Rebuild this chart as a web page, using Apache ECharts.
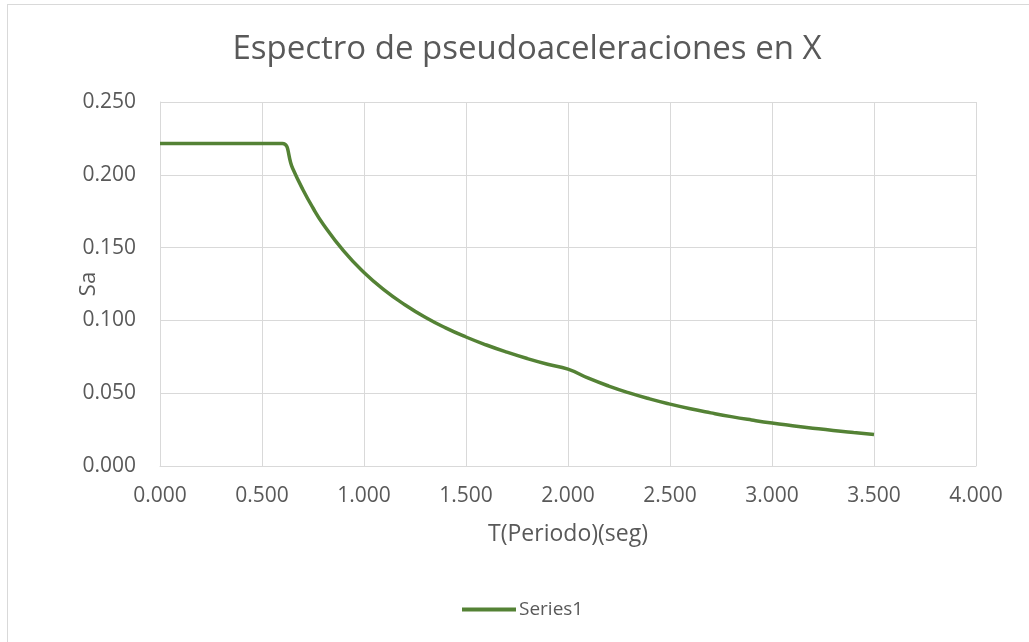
<!DOCTYPE html>
<html>
<head>
<meta charset="utf-8">
<script src="https://cdn.jsdelivr.net/npm/echarts@6/dist/echarts.min.js"></script>
<style>
html,body{margin:0;padding:0;background:#fff;}
#frame{position:absolute;left:7px;top:4px;width:1040px;height:660px;border:1px solid #d9d9d9;box-sizing:border-box;}
#chart{position:absolute;left:0;top:0;width:1029px;height:642px;}
</style>
</head>
<body>
<div id="frame"></div>
<div id="chart"></div>
<script>
const titleText = "Espectro de pseudoaceleraciones en X";
const xAxisName = "T(Periodo)(seg)";
const yAxisName = "Sa";
const seriesName = "Series1";
const periods = [0.0,0.1,0.2,0.3,0.4,0.5,0.55,0.6,0.65,0.7,0.75,0.8,0.9,1.0,1.1,1.2,1.3,1.4,1.5,1.6,1.7,1.8,1.9,2.0,2.1,2.2,2.3,2.4,2.5,2.6,2.7,2.8,2.9,3.0,3.1,3.2,3.3,3.4,3.5];
const saValues = [0.2215,0.2215,0.2215,0.2215,0.2215,0.2215,0.2215,0.2215,0.2045,0.1899,0.1772,0.1661,0.1477,0.1329,0.1208,0.1108,0.1022,0.0949,0.0886,0.0831,0.0782,0.0738,0.0699,0.0665,0.0603,0.0549,0.0502,0.0461,0.0425,0.0393,0.0365,0.0339,0.0316,0.0295,0.0277,0.0260,0.0244,0.0230,0.0217];

const chart = echarts.init(document.getElementById('chart'), null, {renderer:'canvas'});
const font = "Open Sans";
const txt = '#595959';
chart.setOption({
  animation:false,
  backgroundColor:'transparent',
  title:{text:titleText,left:522,textAlign:'center',top:28,textStyle:{fontFamily:font,fontSize:33,fontWeight:'normal',color:txt}},
  legend:{bottom:18,left:457,itemWidth:54,itemHeight:4,icon:'rect',itemGap:4,
    textStyle:{fontFamily:font,fontSize:19,color:txt,padding:[0,0,0,-2]},data:[seriesName]},
  grid:{left:160,right:53,top:102,bottom:176,containLabel:false},
  xAxis:{type:'value',min:0,max:4,interval:0.5,name:xAxisName,nameLocation:'middle',nameGap:57,nameMoveOverlap:false,
    nameTextStyle:{fontFamily:font,fontSize:23,color:txt},
    axisLine:{show:true,lineStyle:{color:'#d9d9d9',width:1}},axisTick:{show:false},
    splitLine:{show:true,lineStyle:{color:'#d9d9d9',width:1}},
    axisLabel:{fontFamily:font,fontSize:21,color:txt,margin:20,formatter:v=>v.toFixed(3)}},
  yAxis:{type:'value',min:0,max:0.25,interval:0.05,name:yAxisName,nameLocation:'middle',nameGap:60,nameRotate:90,nameMoveOverlap:false,
    nameTextStyle:{fontFamily:font,fontSize:22,color:txt},
    axisLine:{show:true,lineStyle:{color:'#d9d9d9',width:1}},axisTick:{show:false},
    splitLine:{show:true,lineStyle:{color:'#d9d9d9',width:1}},
    axisLabel:{fontFamily:font,fontSize:21,color:txt,margin:24,formatter:v=>v.toFixed(3)}},
  series:[{name:seriesName,type:'line',smooth:0.5,showSymbol:false,symbol:'none',
    lineStyle:{color:'#548235',width:3.5},itemStyle:{color:'#548235'},
    data:periods.map((t,i)=>[t,saValues[i]])}]
});
</script>
</body>
</html>
